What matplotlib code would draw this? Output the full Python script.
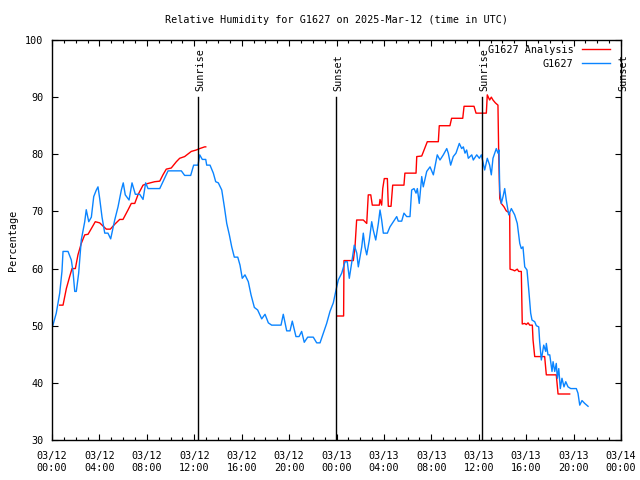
import numpy as np
import matplotlib
matplotlib.use("Agg")
import matplotlib.pyplot as plt
from matplotlib.ticker import MultipleLocator, FixedLocator

# hours since 2025-03-12 00:00 UTC
obs_hours = [0.08, 0.36, 0.65, 0.84, 0.93, 1.35, 1.63, 1.77, 1.92, 2.05, 2.25, 2.47, 2.76, 2.89,
             3.10, 3.32, 3.52, 3.74, 3.88, 4.02, 4.22, 4.45, 4.72, 4.95, 5.29, 5.57, 5.85, 6.01,
             6.18, 6.50, 6.75, 7.03, 7.40, 7.68, 7.90, 8.10, 9.09, 9.36, 9.79, 10.91, 11.19, 11.70,
             11.95, 12.32, 12.46, 12.68, 12.97, 13.05, 13.33, 13.61, 13.81, 14.03, 14.32, 14.54,
             14.74, 14.96, 15.16, 15.38, 15.67, 15.86, 16.05, 16.28, 16.56, 16.79, 17.07, 17.35,
             17.69, 17.97, 18.25, 18.53, 19.32, 19.51, 19.80, 20.08, 20.27, 20.58, 20.84, 21.06,
             21.28, 21.57, 22.04, 22.33, 22.61, 22.89, 23.17, 23.45, 23.73, 23.96, 24.15, 24.44,
             24.72, 24.91, 25.08, 25.28, 25.50, 25.71, 25.84, 26.13, 26.26, 26.40, 26.55, 26.77,
             26.97, 27.10, 27.31, 27.53, 27.67, 27.81, 27.95, 28.29, 28.51, 28.79, 29.08, 29.21,
             29.50, 29.69, 29.92, 30.20, 30.34, 30.54, 30.71, 30.82, 30.98, 31.19, 31.32, 31.61,
             31.89, 32.17, 32.50, 32.73, 33.01, 33.30, 33.43, 33.63, 33.85, 34.08, 34.36, 34.56,
             34.70, 34.84, 34.98, 35.12, 35.41, 35.54, 35.83, 36.05, 36.22, 36.50, 36.72, 36.92,
             37.06, 37.20, 37.35, 37.48, 37.62, 37.71, 37.77, 37.90, 38.05, 38.19, 38.32, 38.53,
             38.75, 39.03, 39.25, 39.46, 39.59, 39.73, 39.88, 40.07, 40.22, 40.38, 40.49, 40.72,
             40.86, 41.06, 41.14, 41.28, 41.48, 41.65, 41.70, 41.84, 41.99, 42.18, 42.27, 42.41,
             42.54, 42.63, 42.75, 42.88, 43.02, 43.19, 43.34, 43.53, 43.76, 44.23, 44.37, 44.52,
             44.71, 44.94, 45.22]
obs_rh = [50.1, 52.2, 55.7, 59.5, 63.0, 63.0, 61.5, 59.5, 56.0, 56.0, 59.2, 65.0, 68.2, 70.3,
          68.2, 69.0, 72.6, 73.75, 74.3, 72.3, 69.0, 66.2, 66.2, 65.2, 68.5, 70.8, 73.75, 75.0,
          72.9, 72.0, 75.0, 73.0, 73.0, 72.1, 75.0, 74.0, 74.0, 75.2, 77.1, 77.1, 76.3, 76.3,
          78.1, 78.1, 79.9, 79.1, 79.1, 78.1, 78.1, 76.7, 75.2, 75.0, 73.75, 70.8,
          67.9, 65.9, 63.8, 62.0, 62.0, 60.6, 58.3, 58.9, 57.7, 55.4, 53.2, 52.75,
          51.2, 52.0, 50.5, 50.1, 50.1, 52.0, 49.1, 49.1, 50.8, 48.1, 48.1, 49.0,
          47.1, 48.0, 48.0, 47.0, 47.0, 48.7, 50.4, 52.5, 54.0, 56.25, 58.0, 59.2,
          61.2, 61.2, 58.3, 61.0, 64.1, 62.7, 60.3, 63.8, 66.2, 63.8, 62.4, 65.0,
          68.2, 66.75, 65.0, 67.9, 70.25, 68.5, 66.2, 66.2, 67.3, 68.2, 69.1, 68.3,
          68.3, 69.7, 69.1, 69.1, 73.75, 74.0, 73.2, 74.0, 71.4, 76.1, 74.3, 77.0,
          77.8, 76.4, 79.9, 79.0, 79.9, 81.0, 80.2, 78.1, 79.6, 80.2, 81.9, 81.0,
          81.3, 80.2, 80.75, 79.3, 79.9, 79.0, 79.9, 79.3, 79.9, 77.25, 79.3, 78.1,
          76.4, 79.3, 80.2, 81.0, 80.2, 80.75, 73.75, 71.4, 72.6, 74.0, 72.0, 69.4,
          70.5, 69.4, 67.9, 64.4, 63.5, 63.8, 60.3, 59.75, 56.25, 52.2, 51.0, 50.7,
          50.0, 49.8, 47.2, 44.0, 46.6, 45.5, 46.9, 44.9, 44.9, 42.0, 43.7, 42.0,
          43.4, 40.8, 42.5, 39.0, 40.8, 39.3, 40.2, 39.3, 39.0, 39.0, 38.2, 36.1,
          36.9, 36.4, 35.9]

ana_hours = [0.65, 0.93, 1.21, 1.49, 1.69, 1.97, 2.19, 2.47, 2.76, 3.04, 3.32, 3.65, 4.02, 4.30,
             4.58, 4.92, 5.29, 5.71, 5.99, 6.41, 6.69, 6.98, 7.25, 7.68, 8.10, 8.66, 9.09, 9.36,
             9.64, 10.06, 10.49, 10.77, 11.19, 11.75, 12.17, 12.46, 12.88, 12.97, 18.0,
             24.02, 24.60, 24.63, 25.42, 25.56, 25.70, 26.26, 26.55, 26.68, 26.89, 27.02, 27.61,
             27.67, 27.81, 27.90, 28.03, 28.29, 28.37, 28.60, 28.74, 29.69, 29.77, 30.71, 30.77,
             31.19, 31.66, 32.59, 32.67, 33.57, 33.71, 34.65, 34.76, 35.60, 35.77, 36.64, 36.72,
             36.92, 37.06, 37.20, 37.40, 37.62, 37.68, 37.77, 37.90, 38.13, 38.32, 38.61, 38.64,
             38.89, 39.03, 39.25, 39.37, 39.59, 39.67, 39.88, 40.01, 40.16, 40.30, 40.52, 40.58,
             40.72, 41.56, 41.70, 42.54, 42.69, 43.67]
ana_rh = [53.6, 53.6, 56.5, 58.6, 60.0, 60.0, 62.4, 64.4, 65.9, 66.0, 67.0, 68.2, 68.0, 67.45,
          66.9, 66.9, 67.75, 68.6, 68.6, 70.25, 71.4, 71.4, 72.9, 74.6, 74.9, 75.2, 75.3, 76.4,
          77.4, 77.6, 78.7, 79.3, 79.6, 80.5, 80.75, 81.0, 81.3, 81.3, np.nan,
          51.7, 51.7, 61.4, 61.4, 63.8, 68.5, 68.5, 67.9, 72.9, 72.9, 71.1, 71.1,
          72.1, 71.1, 74.0, 75.75, 75.75, 70.9, 70.9, 74.6, 74.6, 76.7, 76.7, 79.6,
          79.7, 82.2, 82.2, 85.0, 85.0, 86.3, 86.3, 88.4, 88.4, 87.2, 87.2, 90.4,
          89.5, 90.0, 89.5, 89.0, 88.6, 80.5, 72.3, 71.4, 70.8, 70.1, 69.7, 59.9,
          59.75, 59.6, 59.9, 59.5, 59.5, 50.3, 50.4, 50.2, 50.5, 50.1, 50.1, 47.5,
          44.6, 44.6, 41.4, 41.4, 38.05, 38.05]

sun_hours = [12.33, 23.96, 36.30, 47.98]
sun_labels = ["Sunrise", "Sunset", "Sunrise", "Sunset"]

tick_hours = list(range(0, 49, 4))
tick_labels = ["03/12\n00:00", "03/12\n04:00", "03/12\n08:00", "03/12\n12:00", "03/12\n16:00",
               "03/12\n20:00", "03/13\n00:00", "03/13\n04:00", "03/13\n08:00", "03/13\n12:00",
               "03/13\n16:00", "03/13\n20:00", "03/14\n00:00"]

font = "DejaVu Sans Mono"
fs = 7.3

fig = plt.figure(figsize=(6.4, 4.8), dpi=100)
ax = fig.add_axes([52 / 640, 40 / 480, 569 / 640, 400 / 480])

ax.plot(ana_hours, ana_rh, color="#ff0000", linewidth=1.0, label="G1627 Analysis")
ax.plot(obs_hours, obs_rh, color="#0a84ff", linewidth=1.0, label="G1627")

for h, lab in zip(sun_hours, sun_labels):
    ax.plot([h, h], [30, 90], color="black", linewidth=1.0)
    ax.text(h + 0.2, 91, lab, rotation=90, ha="center", va="bottom",
            family=font, fontsize=fs)

ax.set_xlim(0, 48)
ax.set_ylim(30, 100)
ax.xaxis.set_major_locator(FixedLocator(tick_hours))
ax.xaxis.set_minor_locator(MultipleLocator(1))
ax.set_xticklabels(tick_labels)
ax.yaxis.set_major_locator(MultipleLocator(10))
ax.tick_params(which="both", direction="in", top=True, right=True, width=0.8,
               labelsize=fs)
ax.tick_params(which="major", length=4)
ax.tick_params(which="minor", length=2.5)
ax.tick_params(axis="x", which="major", pad=8)
ax.tick_params(axis="y", which="major", pad=6)
for lbl in ax.get_xticklabels() + ax.get_yticklabels():
    lbl.set_family(font)
for sp in ax.spines.values():
    sp.set_linewidth(1.0)

ax.set_ylabel("Percentage", family=font, fontsize=fs, labelpad=5)
ax.set_title("Relative Humidity for G1627 on 2025-Mar-12 (time in UTC)",
             family=font, fontsize=fs, pad=12)

leg = ax.legend(loc="upper right", frameon=False, markerfirst=False,
                prop={"family": font, "size": fs}, handlelength=2.8,
                borderpad=0, borderaxespad=0, labelspacing=0.35, handletextpad=0.8,
                bbox_to_anchor=((610 - 52) / 569, (440 - 45) / 400))
for t in leg.get_texts():
    t.set_ha("right")

fig.savefig("out.png", dpi=100)
